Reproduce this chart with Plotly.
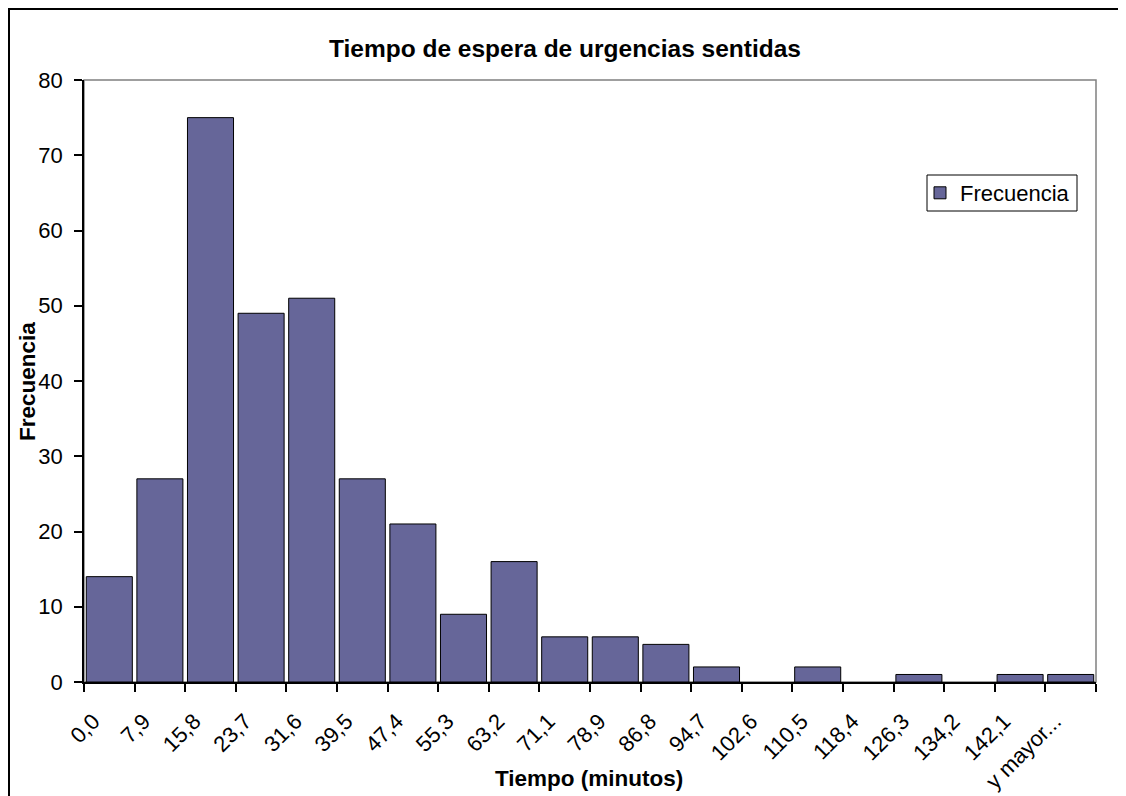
import plotly.graph_objects as go

categorias = ["0,0", "7,9", "15,8", "23,7", "31,6", "39,5", "47,4", "55,3", "63,2", "71,1",
              "78,9", "86,8", "94,7", "102,6", "110,5", "118,4", "126,3", "134,2", "142,1", "y mayor..."]
frecuencia = [14, 27, 75, 49, 51, 27, 21, 9, 16, 6, 6, 5, 2, 0, 2, 0, 1, 0, 1, 1]
y_ticks = [0, 10, 20, 30, 40, 50, 60, 70, 80]

# the page body adds an 8px margin: work in screen coordinates and shift
OFF = 8
W, H = 1126 - OFF, 796 - OFF
PL, PR, PT, PB = 84, 1096, 80, 682          # plot area in screen pixels
L, R, T, B = PL - OFF, W - (PR - OFF), PT - OFF, H - (PB - OFF)
pw, ph = PR - PL, PB - PT

def px(x):
    return (x - PL) / pw

def py(y):
    return (PB - y) / ph

FONT = "Liberation Sans, Arial, sans-serif"

fig = go.Figure()
fig.add_trace(go.Bar(
    x=categorias, y=frecuencia, name="Frecuencia",
    marker=dict(color="#666699",
                line=dict(color="#000000", width=[1 if v > 0 else 0 for v in frecuencia])),
))

fig.update_layout(
    width=W, height=H,
    margin=dict(l=L, r=R, t=T, b=B, autoexpand=False),
    paper_bgcolor="white", plot_bgcolor="white",
    bargap=0.09,
    font=dict(family=FONT, size=22, color="black"),
    title=dict(text="<b>Tiempo de espera de urgencias sentidas</b>", x=px(565), xref="paper",
               xanchor="center", y=1 - (48 - OFF) / H, yanchor="middle",
               font=dict(family=FONT, size=24.5, color="black")),
    showlegend=True,
    legend=dict(x=px(920), y=py(172), xanchor="left", yanchor="top",
                borderwidth=0, bgcolor="rgba(0,0,0,0)",
                font=dict(family=FONT, size=22), itemwidth=30),
    xaxis=dict(type="category", showline=True, linecolor="black", linewidth=1.5,
               ticks="outside", ticklen=8, tickcolor="black", tickwidth=1.5, tickson="boundaries",
               tickangle=-45, showgrid=False, zeroline=False, automargin=False,
               ticklabelstandoff=16, ticklabelshift=-16,
               tickfont=dict(family=FONT, size=22)),
    yaxis=dict(range=[0, 80], tickvals=y_ticks, showline=True, linecolor="black", linewidth=1.5,
               ticks="outside", ticklen=8, tickcolor="black", tickwidth=1.5, automargin=False,
               showgrid=False, zeroline=False, ticklabelstandoff=7,
               tickfont=dict(family=FONT, size=22)),
    annotations=[
        dict(text="<b>Frecuencia</b>", xref="paper", yref="paper", x=px(27), y=py(382),
             xanchor="center", yanchor="middle", textangle=-90, showarrow=False,
             font=dict(family=FONT, size=22.5, color="black")),
        dict(text="<b>Tiempo (minutos)</b>", xref="paper", yref="paper", x=px(589), y=py(778),
             xanchor="center", yanchor="middle", showarrow=False,
             font=dict(family=FONT, size=22.5, color="black")),
    ],
)

# plot area border (gray)
fig.add_shape(type="rect", xref="paper", yref="paper", x0=0, x1=1, y0=0, y1=1,
              line=dict(color="#808080", width=1.5), layer="below")
# legend box
fig.add_shape(type="rect", xref="paper", yref="paper", x0=px(927), x1=px(1077), y0=py(211), y1=py(175),
              line=dict(color="black", width=1), fillcolor="white", layer="below")
# outer chart border
fig.add_shape(type="rect", xref="paper", yref="paper", x0=px(9), x1=px(1120), y0=py(830), y1=py(9),
              line=dict(color="black", width=2), layer="above")

fig.write_html("out.html")
